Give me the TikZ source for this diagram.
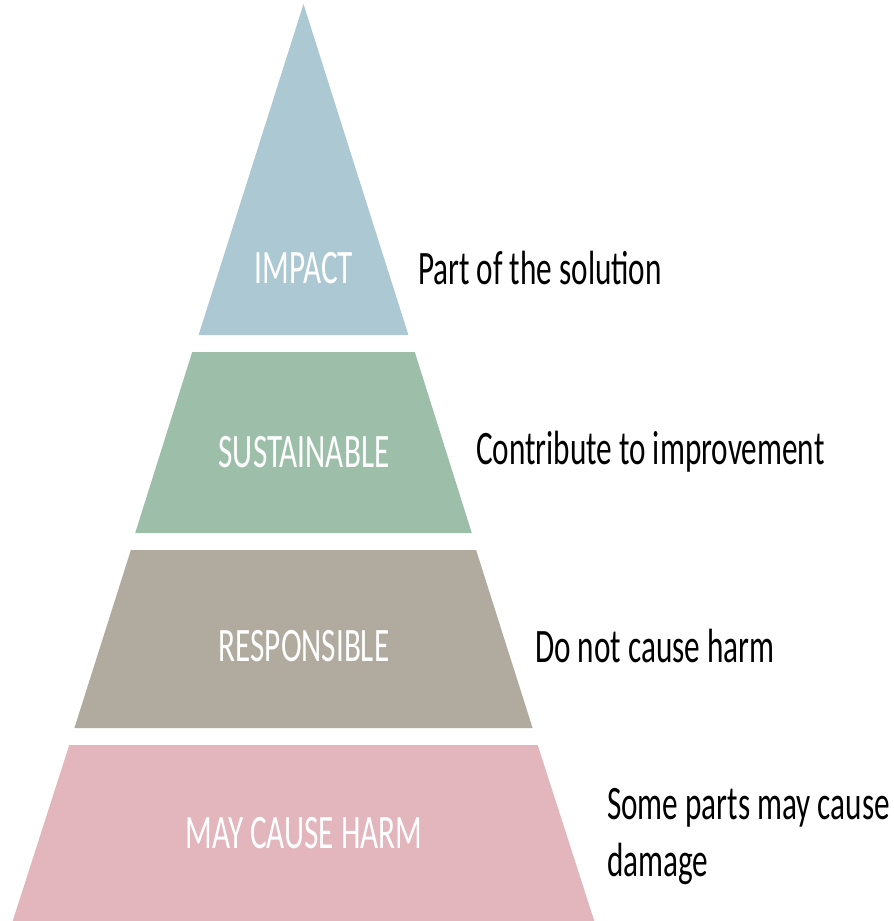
\documentclass[tikz,border=0pt]{standalone}
\usepackage{fontspec}
\setmainfont{Carlito}
\usepackage{graphicx}
\definecolor{cblue}{RGB}{172,200,211}
\definecolor{cgreen}{RGB}{157,191,170}
\definecolor{cbrown}{RGB}{177,170,158}
\definecolor{cpink}{RGB}{227,181,188}
\newcommand{\stretchtxt}[1]{\scalebox{1}[1.54]{\fontsize{31.2}{37}\selectfont #1}}
\tikzset{
  layer/.style={draw=none},
  inlabel/.style={text=white, inner sep=0pt, anchor=center},
  sidelabel/.style={text=black, inner sep=0pt, anchor=west, align=left}
}
\begin{document}
\begin{tikzpicture}[x=1pt,y=-1pt]
\useasboundingbox (0,0) rectangle (894,921);
% half width: 0.317*(y-4) around x=303.5
\fill[cblue]  (303.5,4) -- (408.4,335) -- (198.6,335) -- cycle;
\fill[cgreen] (192.2,352) -- (414.8,352) -- (471.8,533) -- (135.2,533) -- cycle;
\fill[cbrown] (130.9,550) -- (476.1,550) -- (532.6,728) -- (74.4,728) -- cycle;
\fill[cpink]  (69.3,745) -- (537.7,745) -- (594.3,921) -- (12.7,921) -- cycle;
\node[inlabel] (l1) at (304,268) {\stretchtxt{IMPACT}};
\node[inlabel] (l2) at (304,452) {\stretchtxt{SUSTAINABLE}};
\node[inlabel] (l3) at (304,646) {\stretchtxt{RESPONSIBLE}};
\node[inlabel] (l4) at (304,833) {\stretchtxt{MAY CAUSE HARM}};
\node[sidelabel] (r1) at (418,268) {\stretchtxt{Part of the solution}};
\node[sidelabel] (r2) at (476,452) {\stretchtxt{Contribute to improvement}};
\node[sidelabel] (r3) at (535,646) {\stretchtxt{Do not cause harm}};
\node[sidelabel] (r4) at (607,837) {\stretchtxt{\begin{tabular}{@{}l@{}}Some parts may cause\\damage\end{tabular}}};
\end{tikzpicture}
\end{document}
